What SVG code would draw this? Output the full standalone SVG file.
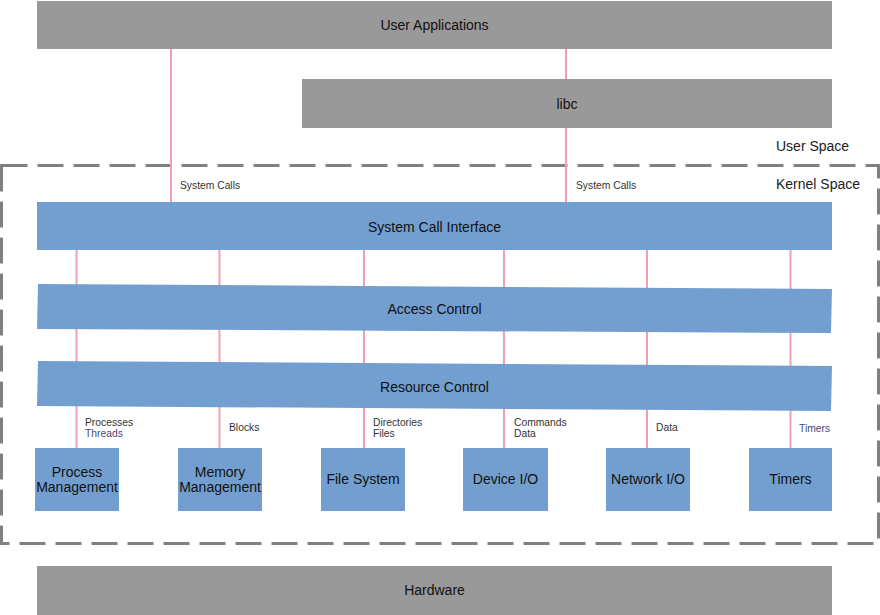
<svg xmlns="http://www.w3.org/2000/svg" width="880" height="615" viewBox="0 0 880 615">
<style>
.gray{fill:#999999}
.blue{fill:#729fcf}
.t{font-family:"Liberation Sans",Arial,sans-serif;font-size:14px;fill:#111;text-anchor:middle}
.s{font-family:"Liberation Sans",Arial,sans-serif;font-size:10.3px;fill:#333}
.b{fill:#3f4a78}
.z{font-family:"Liberation Sans",Arial,sans-serif;font-size:14px;fill:#222}
.c line{stroke:#f0a0ac;stroke-width:2}
</style>
<rect width="880" height="615" fill="#fff"/>
<rect id="space-boundary" x="1.5" y="165.5" width="877" height="378" fill="none" stroke="#808080" stroke-width="3" stroke-dasharray="26 10"/>
<g class="c" id="connectors">
<line x1="171" y1="49" x2="171" y2="202"/>
<line x1="566" y1="49" x2="566" y2="202"/>
<line x1="76.5" y1="250" x2="76.5" y2="448"/>
<line x1="219.5" y1="250" x2="219.5" y2="448"/>
<line x1="364" y1="250" x2="364" y2="448"/>
<line x1="504" y1="250" x2="504" y2="448"/>
<line x1="647" y1="250" x2="647" y2="448"/>
<line x1="790.5" y1="250" x2="790.5" y2="448"/>
</g>
<g id="user-apps"><rect class="gray" x="37" y="1" width="795" height="48"/><text class="t" x="434.5" y="30">User Applications</text></g>
<g id="libc"><rect class="gray" x="302" y="79" width="530" height="49"/><text class="t" x="567" y="109">libc</text></g>
<g id="sci"><rect class="blue" x="37" y="202" width="795" height="48"/><text class="t" x="434.5" y="232">System Call Interface</text></g>
<g id="access"><polygon class="blue" points="38,284 832,289 831,333 37,329"/><text class="t" x="434.5" y="314">Access Control</text></g>
<g id="resource"><polygon class="blue" points="38,361 832,366 831,411 37,406"/><text class="t" x="434.5" y="392">Resource Control</text></g>
<g id="process"><rect class="blue" x="35" y="448" width="84" height="63"/><text class="t" x="77" y="477">Process</text><text class="t" x="77" y="492">Management</text></g>
<g id="memory"><rect class="blue" x="178" y="448" width="84" height="63"/><text class="t" x="220" y="477">Memory</text><text class="t" x="220" y="492">Management</text></g>
<g id="fs"><rect class="blue" x="321" y="448" width="84" height="63"/><text class="t" x="363" y="484">File System</text></g>
<g id="devio"><rect class="blue" x="463" y="448" width="85" height="63"/><text class="t" x="505.5" y="484">Device I/O</text></g>
<g id="netio"><rect class="blue" x="606" y="448" width="84" height="63"/><text class="t" x="648" y="484">Network I/O</text></g>
<g id="timers"><rect class="blue" x="749" y="448" width="83" height="63"/><text class="t" x="790.5" y="484">Timers</text></g>
<g id="hardware"><rect class="gray" x="37" y="566" width="795" height="49"/><text class="t" x="434.5" y="595">Hardware</text></g>
<g id="labels">
<text class="z" x="776" y="151">User Space</text>
<text class="z" x="776" y="189">Kernel Space</text>
<text class="s" x="180" y="189">System Calls</text>
<text class="s" x="576" y="189">System Calls</text>
<text class="s" x="85" y="426">Processes</text>
<text class="s b" x="85" y="437">Threads</text>
<text class="s" x="229" y="431">Blocks</text>
<text class="s" x="373" y="426">Directories</text>
<text class="s" x="373" y="437">Files</text>
<text class="s" x="514" y="426">Commands</text>
<text class="s" x="514" y="437">Data</text>
<text class="s" x="656" y="431">Data</text>
<text class="s b" x="799" y="432">Timers</text>
</g>
</svg>
